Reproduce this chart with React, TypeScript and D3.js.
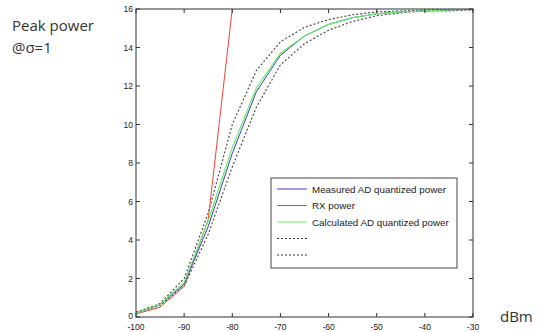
import * as d3 from "d3"

const dbm = [-100, -95, -90, -85, -80, -75, -70, -65, -60, -55, -50, -45, -40, -35, -30]
const measured = [0.2, 0.65, 1.7, 4.7, 8.5, 11.7, 13.6, 14.6, 15.2, 15.55, 15.75, 15.85, 15.9, 15.95, 16]
const calculated = [0.2, 0.65, 1.8, 5.0, 8.8, 11.9, 13.7, 14.6, 15.2, 15.55, 15.75, 15.85, 15.9, 15.95, 16]
const upperBound = [0.25, 0.7, 2.0, 5.4, 10.0, 12.8, 14.3, 15.05, 15.45, 15.7, 15.85, 15.9, 15.95, 16, 16]
const lowerBound = [0.2, 0.6, 1.6, 4.3, 7.8, 10.9, 13.1, 14.2, 14.9, 15.35, 15.65, 15.8, 15.9, 15.9, 15.95]
const rxDbm = [-100, -95, -90, -85, -80]
const rxPower = [0.16, 0.51, 1.6, 5.06, 16]

const xTicks = [-100, -90, -80, -70, -60, -50, -40, -30]
const yTicks = [0, 2, 4, 6, 8, 10, 12, 14, 16]

const legendItems = [
  { label: "Measured AD quantized power", color: "#3b3bd6", dash: "" },
  { label: "RX power", color: "#ee4433", dash: "" },
  { label: "Calculated AD quantized power", color: "#66ee66", dash: "" },
  { label: "", color: "#333", dash: "2,2" },
  { label: "", color: "#333", dash: "2,2" },
]

export default function App() {
  const W = 548
  const H = 332
  const m = { left: 136, right: 473, top: 9, bottom: 317 }

  const x = d3.scaleLinear().domain([-100, -30]).range([m.left, m.right])
  const y = d3.scaleLinear().domain([0, 16]).range([m.bottom, m.top])

  const line = d3.line<[number, number]>()
    .x(d => x(d[0]))
    .y(d => y(d[1]))

  const pts = (xs: number[], ys: number[]) => xs.map((v, i) => [v, ys[i]] as [number, number])

  const font = "'Liberation Sans', Arial, sans-serif"
  const tl = 4

  return (
    <svg width={W} height={H} style={{ position: "absolute", left: 0, top: 0, background: "#fff" }}>
      <rect x={0} y={0} width={W} height={H} fill="#fff" />

      {/* titles */}
      <text x={12} y={31} fontFamily="'Open Sans', 'DejaVu Sans', sans-serif" fontSize={15} fill="#333">Peak power</text>
      <text x={12} y={53} fontFamily="'Open Sans', 'DejaVu Sans', sans-serif" fontSize={15} fill="#333">@σ=1</text>
      <text x={500} y={322} fontFamily="'Open Sans', 'DejaVu Sans', sans-serif" fontSize={15} fill="#333">dBm</text>

      <defs>
        <clipPath id="plot">
          <rect x={m.left} y={m.top} width={m.right - m.left} height={m.bottom - m.top} />
        </clipPath>
      </defs>

      {/* curves */}
      <g clipPath="url(#plot)" fill="none">
        <path d={line(pts(dbm, upperBound))!} stroke="#444" strokeWidth={1.1} strokeDasharray="2,2" />
        <path d={line(pts(dbm, lowerBound))!} stroke="#444" strokeWidth={1.1} strokeDasharray="2,2" />
        <path d={line(pts(rxDbm, rxPower))!} stroke="#ee4433" strokeWidth={1} />
        <path d={line(pts(dbm, measured))!} stroke="#3b3bd6" strokeWidth={1} />
        <path d={line(pts(dbm, calculated))!} stroke="#66ee66" strokeWidth={1.2} />
      </g>

      {/* frame */}
      <rect x={m.left} y={m.top} width={m.right - m.left} height={m.bottom - m.top} fill="none" stroke="#333" strokeWidth={1} />

      {/* ticks */}
      <g stroke="#333" strokeWidth={1}>
        {xTicks.map(t => (
          <g key={"x" + t}>
            <line x1={x(t)} x2={x(t)} y1={m.bottom} y2={m.bottom - tl} />
            <line x1={x(t)} x2={x(t)} y1={m.top} y2={m.top + tl} />
          </g>
        ))}
        {yTicks.map(t => (
          <g key={"y" + t}>
            <line x1={m.left} x2={m.left + tl} y1={y(t)} y2={y(t)} />
            <line x1={m.right} x2={m.right - tl} y1={y(t)} y2={y(t)} />
          </g>
        ))}
      </g>

      <g fontFamily={font} fontSize={8.5} fill="#222">
        {xTicks.map(t => (
          <text key={"xl" + t} x={x(t)} y={m.bottom + 12.5} textAnchor="middle">{t}</text>
        ))}
        {yTicks.map(t => (
          <text key={"yl" + t} x={m.left - 3} y={t === 0 ? y(t) + 1.5 : y(t) + 3} textAnchor="end">{t}</text>
        ))}
      </g>

      {/* legend */}
      <g>
        <rect x={271} y={178} width={186} height={90} fill="#fff" stroke="#444" strokeWidth={1} />
        {legendItems.map((d, i) => {
          const ly = 189 + i * 16.5
          return (
            <g key={"lg" + i}>
              <line x1={277} x2={307} y1={ly} y2={ly} stroke={d.color} strokeWidth={1} strokeDasharray={d.dash} />
              <text x={312} y={ly + 3.5} fontFamily={font} fontSize={9.8} fill="#222">{d.label}</text>
            </g>
          )
        })}
      </g>
    </svg>
  )
}
